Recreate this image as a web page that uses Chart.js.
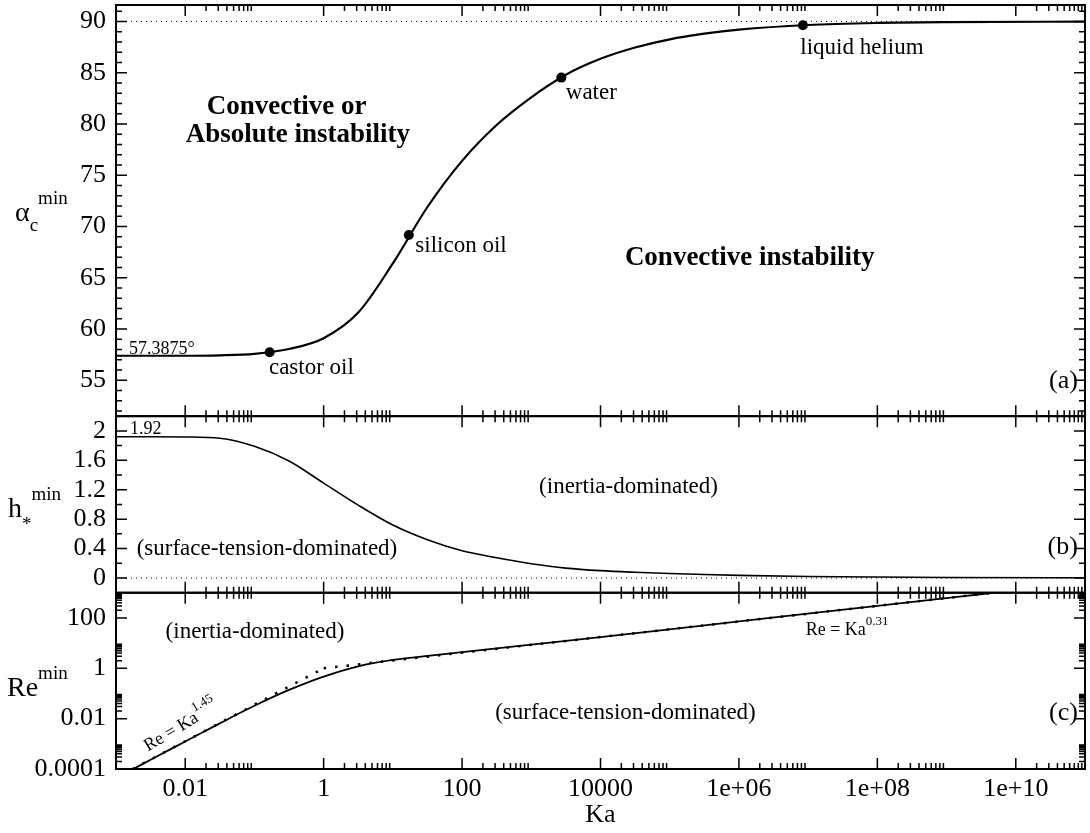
<!DOCTYPE html>
<html>
<head>
<meta charset="utf-8">
<script src="https://cdn.jsdelivr.net/npm/chart.js@4.4.0/dist/chart.umd.min.js"></script>
<style>
  html, body { margin: 0; padding: 0; background: #fff; }
  #wrap { width: 1090px; height: 833px; }
</style>
</head>
<body>
<div id="wrap"><canvas id="chart" width="1090" height="833"></canvas></div>
<script>
// ---- values ----
const xMajorTicks = [0.01, 1, 100, 1e4, 1e6, 1e8, 1e10];
const xTickLabels = ['0.01', '1', '100', '10000', '1e+06', '1e+08', '1e+10'];

// panel (a): critical angle, sampled every half decade of Ka
const alphaKa  = [0.001, 0.00316, 0.01, 0.0316, 0.1, 0.316, 1, 3.16, 10, 31.6, 100, 316, 1000, 3160, 1e4, 3.16e4, 1e5, 3.16e5, 1e6, 1e7, 1e8, 1e9, 1e11];
const alphaVal = [57.39, 57.39, 57.39, 57.43, 57.58, 58.05, 59.1, 61.6, 66.4, 71.9, 76.4, 79.9, 82.6, 84.8, 86.35, 87.45, 88.25, 88.8, 89.2, 89.65, 89.85, 89.93, 89.98];
const fluidNames = ['castor oil', 'silicon oil', 'water', 'liquid helium'];
const fluidKa    = [0.166, 17, 2720, 8.4e6];
const fluidAlpha = [57.73, 69.17, 84.52, 89.62];
const alphaTicks = [55, 60, 65, 70, 75, 80, 85, 90];
const alphaLimit = 90;

// panel (b): film thickness
const hKa  = [0.001, 0.00316, 0.01, 0.0316, 0.1, 0.316, 1, 3.16, 10, 31.6, 100, 316, 1000, 3160, 1e4, 3.16e4, 1e5, 3.16e5, 1e6, 1e7, 1e8, 1e9, 1e11];
const hVal = [1.92, 1.92, 1.917, 1.90, 1.79, 1.59, 1.29, 0.99, 0.72, 0.52, 0.37, 0.275, 0.195, 0.135, 0.10, 0.078, 0.061, 0.047, 0.036, 0.021, 0.013, 0.008, 0.003];
const hTicks = [0, 0.4, 0.8, 1.2, 1.6, 2];
const hTickLabels = ['0', '0.4', '0.8', '1.2', '1.6', '2'];
const hLimit = 0;

// panel (c): Reynolds number and the two power laws
const reKa  = [0.00178, 0.00316, 0.01, 0.0316, 0.1, 0.316, 1, 3.16, 10, 31.6, 100, 316, 1000, 1e4, 1e6, 1e8, 4.8e9];
const reVal = [0.0001, 0.000234, 0.00123, 0.0065, 0.0324, 0.138, 0.468, 1.2, 2.14, 3.09, 4.37, 6.17, 8.7, 17.4, 72.4, 302, 1000];
const lowFitKa  = [0.00174, 1];
const lowFitRe  = [0.0001, 1];
const highFitKa = [1, 4.8e9];
const highFitRe = [1, 1000];
const reTicks = [0.0001, 0.01, 1, 100];
const reTickLabels = ['0.0001', '0.01', '1', '100'];

const serif = '"Liberation Serif", "Times New Roman", Times, serif';

function pts(xs, ys) {
  return xs.map((x, i) => ({ x: x, y: ys[i] }));
}

// minor tick positions (2..9 times each major)
function logMinors(majors, lo, hi) {
  const out = [];
  majors.forEach(m => {
    for (let k = 2; k <= 9; k++) {
      const v = m * k;
      if (v > lo && v < hi) out.push(v);
    }
  });
  return out;
}

const notes = [
  { text: 'Convective or', axis: 'yA', ka: 0.0205, v: 80.95, bold: true },
  { text: 'Absolute instability', axis: 'yA', ka: 0.0102, v: 78.19, bold: true },
  { text: 'Convective instability', axis: 'yA', ka: 22500, v: 66.28, bold: true },
  { text: 'castor oil', axis: 'yA', ka: 0.162, v: 55.63 },
  { text: 'silicon oil', axis: 'yA', ka: 21.1, v: 67.47 },
  { text: 'water', axis: 'yA', ka: 3150, v: 82.42 },
  { text: 'liquid helium', axis: 'yA', ka: 7.7e6, v: 86.8 },
  { text: '57.3875°', axis: 'yA', ka: 0.00154, v: 57.58, size: 18 },
  { text: '(a)', axis: 'yA', ka: 7.9e10, v: 54.2, right: true, size: 26 },
  { text: '1.92', axis: 'yB', ka: 0.00159, v: 1.951, size: 18 },
  { text: '(inertia-dominated)', axis: 'yB', ka: 1297, v: 1.154 },
  { text: '(surface-tension-dominated)', axis: 'yB', ka: 0.00199, v: 0.307 },
  { text: '(b)', axis: 'yB', ka: 7.9e10, v: 0.328, right: true, size: 26 },
  { text: '(inertia-dominated)', axis: 'yC', ka: 0.00521, v: 15.7 },
  { text: '(surface-tension-dominated)', axis: 'yC', ka: 301, v: 0.0096 },
  { text: '(c)', axis: 'yC', ka: 7.9e10, v: 0.0091, right: true, size: 26 }
];

function drawRich(ctx, parts, x, y) {
  let cx = x;
  parts.forEach(p => {
    ctx.font = p.font;
    ctx.fillText(p.t, cx, y + (p.dy || 0));
    cx += ctx.measureText(p.t).width;
  });
}

const panelPlugin = {
  id: 'panelPlugin',
  afterDraw(chart) {
    const ctx = chart.ctx;
    const xs = chart.scales.x;
    const area = chart.chartArea;
    const yA = chart.scales.yA, yB = chart.scales.yB, yC = chart.scales.yC;
    const panels = [yA, yB, yC];
    const xMinor = logMinors(xMajorTicks, 1e-3, 1e11);
    const L = area.left, R = area.right;

    ctx.save();
    ctx.strokeStyle = '#000';
    ctx.lineWidth = 1.5;
    ctx.beginPath();
    // x ticks on top and bottom of every panel, pointing inward
    panels.forEach(p => {
      xMajorTicks.forEach(v => {
        const px = xs.getPixelForValue(v);
        ctx.moveTo(px, p.bottom); ctx.lineTo(px, p.bottom - 11);
        ctx.moveTo(px, p.top); ctx.lineTo(px, p.top + 11);
      });
      xMinor.forEach(v => {
        const px = xs.getPixelForValue(v);
        ctx.moveTo(px, p.bottom); ctx.lineTo(px, p.bottom - 6);
        ctx.moveTo(px, p.top); ctx.lineTo(px, p.top + 6);
      });
    });
    // y ticks on both sides
    function yTick(scale, v, len) {
      const py = scale.getPixelForValue(v);
      ctx.moveTo(L, py); ctx.lineTo(L + len, py);
      ctx.moveTo(R, py); ctx.lineTo(R - len, py);
    }
    alphaTicks.forEach(v => yTick(yA, v, 11));
    for (let v = 52; v <= 91; v++) if (v % 5 !== 0) yTick(yA, v, 6);
    hTicks.forEach(v => yTick(yB, v, 11));
    [0.2, 0.6, 1.0, 1.4, 1.8].forEach(v => yTick(yB, v, 6));
    reTicks.forEach(v => yTick(yC, v, 11));
    logMinors(reTicks, 1e-4, 1e3).forEach(v => yTick(yC, v, 6));
    ctx.stroke();

    // panel frames
    ctx.lineWidth = 2;
    panels.forEach(p => ctx.strokeRect(L, p.top, R - L, p.bottom - p.top));

    // annotations
    ctx.fillStyle = '#000';
    ctx.textBaseline = 'alphabetic';
    notes.forEach(n => {
      const sc = chart.scales[n.axis];
      const px = xs.getPixelForValue(n.ka);
      const py = sc.getPixelForValue(n.v);
      ctx.font = (n.bold ? 'bold 27px ' : (n.size || 23) + 'px ') + serif;
      ctx.textAlign = n.right ? 'right' : 'left';
      ctx.fillText(n.text, px, py);
    });
    ctx.textAlign = 'left';

    // power-law labels
    const big = '18px ' + serif, small = '13px ' + serif;
    ctx.save();
    ctx.translate(xs.getPixelForValue(0.00289), yC.getPixelForValue(0.00049));
    ctx.rotate(-31 * Math.PI / 180);
    drawRich(ctx, [{ t: 'Re = Ka', font: big }, { t: '1.45', font: small, dy: -10 }], 0, 0);
    ctx.restore();
    drawRich(ctx, [{ t: 'Re = Ka', font: big }, { t: '0.31', font: small, dy: -10 }],
      xs.getPixelForValue(9.2e6), yC.getPixelForValue(20.6));

    // y axis titles
    const tFont = '28px ' + serif, sFont = '19px ' + serif;
    const midA = (yA.top + yA.bottom) / 2;
    const midB = (yB.top + yB.bottom) / 2;
    const midC = (yC.top + yC.bottom) / 2;
    drawRich(ctx, [{ t: 'α', font: tFont }, { t: 'c', font: sFont, dy: 10 }, { t: 'min', font: sFont, dy: -17 }], 15, midA + 10);
    drawRich(ctx, [{ t: 'h', font: tFont }, { t: '*', font: sFont, dy: 13 }, { t: 'min', font: sFont, dy: -17 }], 8, midB + 13);
    drawRich(ctx, [{ t: 'Re', font: tFont }, { t: 'min', font: sFont, dy: -17 }], 7, midC + 15);
    ctx.restore();
  }
};

const tickFont = { family: serif, size: 26 };

// fixed width, and no extra room for labels that stick out at the ends
function fixY(s) {
  s.width = 116;
  s.paddingTop = 0;
  s.paddingBottom = 0;
}

function yAxis(extra) {
  return Object.assign({
    position: 'left',
    stack: 'panels',
    bounds: 'data',
    grid: { display: false, drawTicks: false },
    border: { display: false },
    afterFit: fixY
  }, extra);
}

new Chart(document.getElementById('chart'), {
  type: 'scatter',
  data: {
    datasets: [
      { data: pts(alphaKa, alphaVal), yAxisID: 'yA', showLine: true, borderColor: '#000', borderWidth: 2.2, pointRadius: 0, cubicInterpolationMode: 'monotone' },
      { data: pts(fluidKa, fluidAlpha), yAxisID: 'yA', showLine: false, pointRadius: 5, pointBackgroundColor: '#000', pointBorderColor: '#000', pointBorderWidth: 0 },
      { data: pts([1e-3, 1e11], [alphaLimit, alphaLimit]), yAxisID: 'yA', showLine: true, borderColor: '#000', borderWidth: 1, borderDash: [1, 4], pointRadius: 0 },
      { data: pts(hKa, hVal), yAxisID: 'yB', showLine: true, borderColor: '#000', borderWidth: 1.6, pointRadius: 0, cubicInterpolationMode: 'monotone' },
      { data: pts([1e-3, 1e11], [hLimit, hLimit]), yAxisID: 'yB', showLine: true, borderColor: '#000', borderWidth: 1, borderDash: [1, 4], pointRadius: 0 },
      { data: pts(reKa, reVal), yAxisID: 'yC', showLine: true, borderColor: '#000', borderWidth: 1.8, pointRadius: 0, cubicInterpolationMode: 'monotone' },
      { data: pts(lowFitKa, lowFitRe), yAxisID: 'yC', showLine: true, borderColor: '#000', borderWidth: 2.5, borderDash: [2.5, 9], pointRadius: 0 },
      { data: pts(highFitKa, highFitRe), yAxisID: 'yC', showLine: true, borderColor: '#000', borderWidth: 2.5, borderDash: [2.5, 9], pointRadius: 0 }
    ]
  },
  options: {
    responsive: false,
    animation: false,
    devicePixelRatio: 1,
    layout: { padding: { top: 4, right: 3, left: 0, bottom: 0 } },
    plugins: { legend: { display: false }, tooltip: { enabled: false } },
    scales: {
      x: {
        type: 'logarithmic',
        position: 'bottom',
        min: 1e-3,
        max: 1e11,
        bounds: 'data',
        grid: { display: false, drawTicks: false },
        border: { display: false },
        afterFit: s => { s.height = 64; s.paddingLeft = 0; s.paddingRight = 0; },
        afterBuildTicks: s => { s.ticks = xMajorTicks.map(v => ({ value: v })); },
        ticks: {
          font: tickFont, color: '#000', padding: 5, autoSkip: false, maxRotation: 0,
          callback: (v, i) => xTickLabels[i]
        },
        title: { display: true, text: 'Ka', color: '#000', font: { family: serif, size: 26 }, padding: { top: 0, bottom: 2 } }
      },
      yC: yAxis({
        type: 'logarithmic', min: 1e-4, max: 1e3, stackWeight: 176.5,
        afterBuildTicks: s => { s.ticks = reTicks.map(v => ({ value: v })); },
        ticks: { font: tickFont, color: '#000', padding: 10, autoSkip: false, callback: (v, i) => reTickLabels[i] }
      }),
      yB: yAxis({
        type: 'linear', min: -0.2, max: 2.2, stackWeight: 176.8,
        afterBuildTicks: s => { s.ticks = hTicks.map(v => ({ value: v })); },
        ticks: { font: tickFont, color: '#000', padding: 10, autoSkip: false, callback: (v, i) => hTickLabels[i] }
      }),
      yA: yAxis({
        type: 'linear', min: 51.5, max: 91.6, stackWeight: 411.7,
        afterBuildTicks: s => { s.ticks = alphaTicks.map(v => ({ value: v })); },
        ticks: { font: tickFont, color: '#000', padding: 10, autoSkip: false, callback: v => String(v) }
      })
    }
  },
  plugins: [panelPlugin]
});
</script>
</body>
</html>
